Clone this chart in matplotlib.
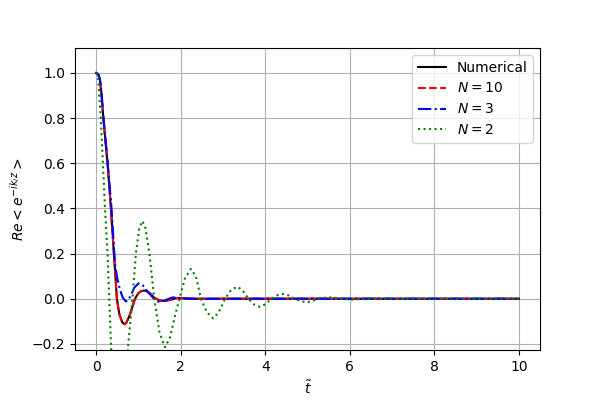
import matplotlib
matplotlib.use('Agg')
import matplotlib.pyplot as plt

# 数值解
t_num = [0, 0.05, 0.09, 0.13, 0.17, 0.22, 0.27, 0.31, 0.35, 0.42, 0.46, 0.49, 0.55, 0.62, 0.67,
         0.72, 0.8, 0.92, 1.0, 1.08, 1.17, 1.27, 1.37, 1.5, 1.63, 1.75, 1.9, 2.1, 2.4, 3.0, 10]
y_num = [1.0, 0.993, 0.97, 0.9, 0.8, 0.7, 0.6, 0.5, 0.4, 0.2, 0.09, 0.0, -0.07, -0.105, -0.113,
         -0.105, -0.07, 0.0, 0.025, 0.035, 0.036, 0.025, 0.005, -0.008, -0.01, -0.005, 0.003,
         0.002, 0.0, 0.0, 0.0]

# N = 10
t_n10 = [0, 0.05, 0.09, 0.13, 0.17, 0.22, 0.27, 0.31, 0.35, 0.42, 0.46, 0.49, 0.55, 0.62, 0.67,
         0.72, 0.8, 0.92, 1.0, 1.08, 1.17, 1.27, 1.37, 1.5, 1.63, 1.75, 1.9, 2.1, 2.4, 3.0, 10]
y_n10 = [1.0, 0.993, 0.97, 0.9, 0.8, 0.7, 0.6, 0.5, 0.4, 0.2, 0.09, 0.0, -0.07, -0.105, -0.113,
         -0.105, -0.07, 0.0, 0.025, 0.035, 0.036, 0.025, 0.005, -0.008, -0.01, -0.005, 0.003,
         0.002, 0.0, 0.0, 0.0]

# N = 3
t_n3 = [0, 0.05, 0.09, 0.13, 0.17, 0.22, 0.27, 0.31, 0.36, 0.42, 0.45, 0.5, 0.57, 0.63, 0.7,
        0.76, 0.83, 0.9, 1.0, 1.1, 1.2, 1.27, 1.37, 1.47, 1.6, 1.72, 1.82, 1.95, 2.1, 2.4, 3.0, 10]
y_n3 = [1.0, 0.993, 0.972, 0.905, 0.81, 0.71, 0.61, 0.52, 0.41, 0.23, 0.15, 0.09, 0.036, 0.005,
        -0.012, -0.006, 0.018, 0.048, 0.068, 0.06, 0.035, 0.02, 0.0, -0.013, -0.01, 0.0, 0.006,
        0.004, 0.0, -0.001, 0.0, 0.0]

# N = 2
t_n2 = [0, 0.05, 0.11, 0.16, 0.21, 0.27, 0.31, 0.35, 0.42, 0.5, 0.56, 0.63, 0.7, 0.76, 0.86,
        0.94, 1.02, 1.09, 1.16, 1.26, 1.375, 1.5, 1.63, 1.75, 1.86, 1.97, 2.1, 2.24, 2.36, 2.48,
        2.62, 2.77, 2.9, 3.05, 3.2, 3.34, 3.46, 3.6, 3.73, 3.87, 4.0, 4.15, 4.28, 4.42, 4.55,
        4.7, 4.84, 4.98, 5.1, 5.25, 5.39, 5.53, 5.66, 5.8, 6.05, 6.35, 6.6, 6.9, 7.3, 10]
y_n2 = [1.0, 0.97, 0.8, 0.6, 0.4, 0.2, 0.0, -0.2, -0.42, -0.54, -0.56, -0.5, -0.35, -0.2, 0.0,
        0.2, 0.31, 0.344, 0.32, 0.2, 0.0, -0.15, -0.215, -0.17, -0.08, 0.0, 0.09, 0.132, 0.1, 0.0,
        -0.06, -0.087, -0.06, 0.0, 0.04, 0.053, 0.038, 0.0, -0.025, -0.036, -0.025, 0.0, 0.015,
        0.021, 0.015, 0.0, -0.011, -0.016, -0.011, 0.0, 0.004, 0.006, 0.004, 0.0, -0.004, 0.0,
        0.002, 0.0, 0.0, 0.0]

fig, ax = plt.subplots(figsize=(6, 4), dpi=100)
fig.subplots_adjust(left=0.125, right=0.9, bottom=0.125, top=0.88)

ax.plot(t_num, y_num, 'k-', label='Numerical')
ax.plot(t_n10, y_n10, 'r--', label=r'$N=10$')
ax.plot(t_n3, y_n3, 'b-.', label=r'$N=3$')
ax.plot(t_n2, y_n2, 'g:', label=r'$N=2$')

ax.set_xlim(-0.5, 10.5)
ax.set_ylim(-0.227, 1.11)
ax.set_xlabel(r'$\tilde{t}$')
ax.set_ylabel(r'$Re<e^{-ik_{l}z}>$')
ax.grid()
ax.legend(loc='upper right')

plt.savefig('out.png', dpi=100)
